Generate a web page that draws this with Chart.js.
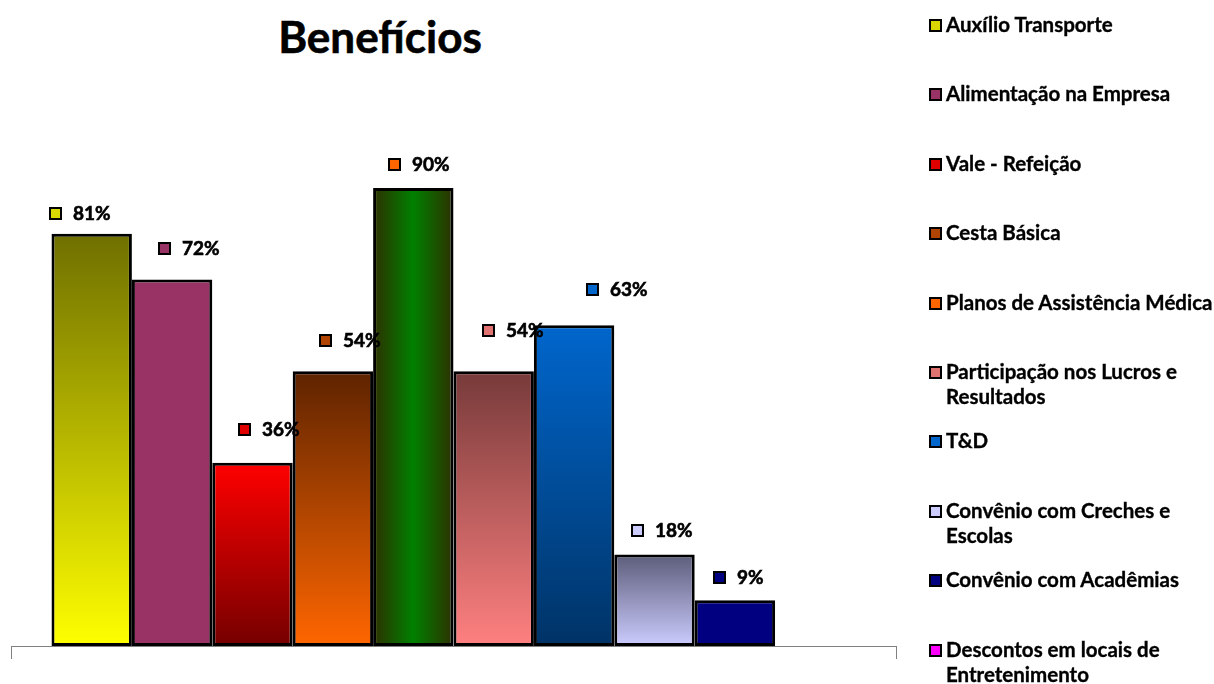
<!DOCTYPE html>
<html lang="pt-BR">
<head>
<meta charset="utf-8">
<title>Benefícios</title>
<script src="https://cdn.jsdelivr.net/npm/chart.js@4/dist/chart.umd.min.js"></script>
<style>
  html, body { margin: 0; padding: 0; background: #fff; }
  body {
    width: 1214px; height: 684px; position: relative; overflow: hidden;
    font-family: Lato, 'Noto Sans', sans-serif; font-weight: bold; color: #000;
  }
  #chart { position: absolute; left: 0; top: 0; }
  .title {
    position: absolute; left: 180px; width: 400px; top: 8px;
    text-align: center; font-size: 44px; line-height: 56px;
    -webkit-text-stroke: 0.6px #000;
  }
  .legend-item {
    position: absolute; left: 929px; width: 300px;
    display: flex; align-items: flex-start;
    font-size: 20.5px; line-height: 25px;
    -webkit-text-stroke: 0.35px #000;
  }
  .legend-swatch {
    width: 9px; height: 9px; border: 2px solid #000;
    margin-top: 7px; margin-right: 4px; flex: none;
  }
</style>
</head>
<body>
<div class="title">Benefícios</div>
<canvas id="chart" width="1214" height="684"></canvas>
<script>
const series = [
  'Auxílio Transporte',
  'Alimentação na Empresa',
  'Vale - Refeição',
  'Cesta Básica',
  'Planos de Assistência Médica',
  'Participação nos Lucros e Resultados',
  'T&D',
  'Convênio com Creches e Escolas',
  'Convênio com Acadêmias',
  'Descontos em locais de Entretenimento'
];
const values = [81, 72, 36, 54, 90, 54, 63, 18, 9, null];

// bar fills: vertical gradients top -> base, one horizontal (green)
const barFills = [
  { dir: 'y', stops: ['#6f6f00', '#ffff00'] },
  { dir: 'y', stops: ['#993366', '#993366'] },
  { dir: 'y', stops: ['#ff0000', '#750000'] },
  { dir: 'y', stops: ['#5e2300', '#ff6600'] },
  { dir: 'x', stops: ['#2e3000', '#008000', '#2e3000'] },
  { dir: 'y', stops: ['#773a3a', '#ff8080'] },
  { dir: 'y', stops: ['#0066cc', '#003366'] },
  { dir: 'y', stops: ['#5c5c7a', '#ccccff'] },
  { dir: 'y', stops: ['#000080', '#000080'] },
  { dir: 'y', stops: ['#ff00ff', '#ff00ff'] }
];
const markerColors = ['#d8d800', '#993366', '#e00000', '#b04400', '#ff6600',
  '#e07272', '#0066cc', '#ccccff', '#000080', '#ff00ff'];

// value label nudges [dx from bar centre, dy from bar top]
const labelNudge = [[-43, -21], [-14, -32], [-14, -34], [-14, -31], [-25, -24],
  [-12, -41], [12, -36], [-24, -24], [-22, -23]];

function makeGradient(ctx, bar, fill) {
  const left = bar.x - bar.width / 2;
  const right = bar.x + bar.width / 2;
  const g = fill.dir === 'x'
    ? ctx.createLinearGradient(left, 0, right, 0)
    : ctx.createLinearGradient(0, bar.y, 0, bar.base);
  fill.stops.forEach((c, i) => g.addColorStop(i / (fill.stops.length - 1), c));
  return g;
}

const gradientFills = {
  id: 'gradientFills',
  beforeDatasetsDraw(chart) {
    chart.data.datasets.forEach((ds, i) => {
      const bar = chart.getDatasetMeta(i).data[0];
      if (!bar || ds.data[0] == null) return;
      bar.options.backgroundColor = makeGradient(chart.ctx, bar, barFills[i]);
    });
  }
};

const valueLabels = {
  id: 'valueLabels',
  afterDatasetsDraw(chart) {
    const { ctx } = chart;
    ctx.save();
    ctx.font = 'bold 19px Lato, "Noto Sans", sans-serif';
    ctx.textBaseline = 'middle';
    chart.data.datasets.forEach((ds, i) => {
      const v = ds.data[0];
      if (v == null) return;
      const bar = chart.getDatasetMeta(i).data[0];
      const [dx, dy] = labelNudge[i];
      const x = Math.round(bar.x + dx);
      const y = Math.round(bar.y + dy);
      ctx.fillStyle = markerColors[i];
      ctx.fillRect(x, y - 6, 13, 13);
      ctx.lineWidth = 2;
      ctx.strokeStyle = '#000';
      ctx.strokeRect(x + 1, y - 5, 11, 11);
      ctx.fillStyle = '#000';
      ctx.fillText(v + '%', x + 24, y + 1);
      ctx.lineWidth = 0.6;
      ctx.strokeText(v + '%', x + 24, y + 1);
    });
    ctx.restore();
  }
};

const datasets = series.map((name, i) => ({
  label: name,
  data: [values[i]],
  backgroundColor: barFills[i].stops[0],
  borderColor: '#000',
  borderWidth: 3,
  borderSkipped: false,
  categoryPercentage: 0.9085,
  barPercentage: 1
}));

new Chart(document.getElementById('chart'), {
  type: 'bar',
  data: { labels: [''], datasets },
  options: {
    responsive: false,
    animation: false,
    devicePixelRatio: 1,
    layout: { padding: { left: 11, right: 318, top: 137, bottom: 25 } },
    plugins: { legend: { display: false }, tooltip: { enabled: false } },
    scales: {
      x: {
        ticks: { display: false },
        grid: { drawOnChartArea: false, drawTicks: true, tickLength: 13, color: '#808080', lineWidth: 1 },
        border: { color: '#808080', width: 1 }
      },
      y: { display: false, min: 0, max: 100 }
    }
  },
  plugins: [gradientFills, valueLabels]
});

// legend on the right
series.forEach((name, i) => {
  const item = document.createElement('div');
  item.className = 'legend-item';
  item.style.top = Math.round(12 + i * 69.4) + 'px';
  const swatch = document.createElement('span');
  swatch.className = 'legend-swatch';
  swatch.style.background = markerColors[i];
  const text = document.createElement('span');
  text.textContent = name;
  item.append(swatch, text);
  document.body.append(item);
});
</script>
</body>
</html>
